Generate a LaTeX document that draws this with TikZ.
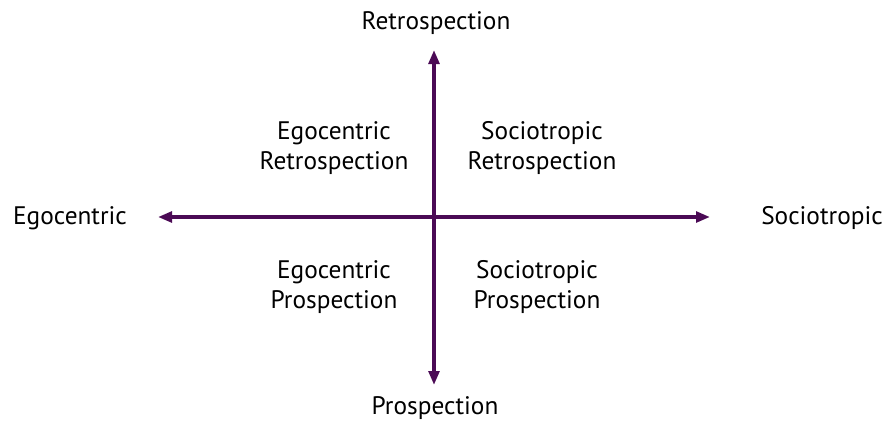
\documentclass[tikz,border=0pt]{standalone}
\usepackage{fontspec}
\setmainfont{PT Sans}
\usepackage{xcolor}
\usepackage{tikz}
\usetikzlibrary{arrows.meta}

\definecolor{axispurple}{HTML}{4B0A55}

\begin{document}
\begin{tikzpicture}[x=0.75pt, y=-0.75pt,
    axis/.style={draw=axispurple, line width=3pt, -{Triangle[length=10.5pt, width=8pt]}},
    lbl/.style={font=\fontsize{19}{22.5}\selectfont, align=center, inner sep=0pt}]
    \useasboundingbox (0,0) rectangle (887,421);
    \coordinate (o) at (434,217);
    \coordinate (up) at (434,50);
    \coordinate (down) at (434,385);
    \coordinate (left) at (158,217);
    \coordinate (right) at (710,217);
    \draw[axis] (o) -- (up);
    \draw[axis] (o) -- (down);
    \draw[axis] (o) -- (left);
    \draw[axis] (o) -- (right);
    \node[lbl] (retro) at (436,23) {Retrospection};
    \node[lbl] (pro) at (435,408) {Prospection};
    \node[lbl] (ego) at (70,218) {Egocentric};
    \node[lbl] (socio) at (822,218) {Sociotropic};
    \node[lbl] (egoretro) at (334,148) {Egocentric\\Retrospection};
    \node[lbl] (socioretro) at (542,148) {Sociotropic\\Retrospection};
    \node[lbl] (egopro) at (334,287) {Egocentric\\Prospection};
    \node[lbl] (sociopro) at (537,287) {Sociotropic\\Prospection};
\end{tikzpicture}
\end{document}
